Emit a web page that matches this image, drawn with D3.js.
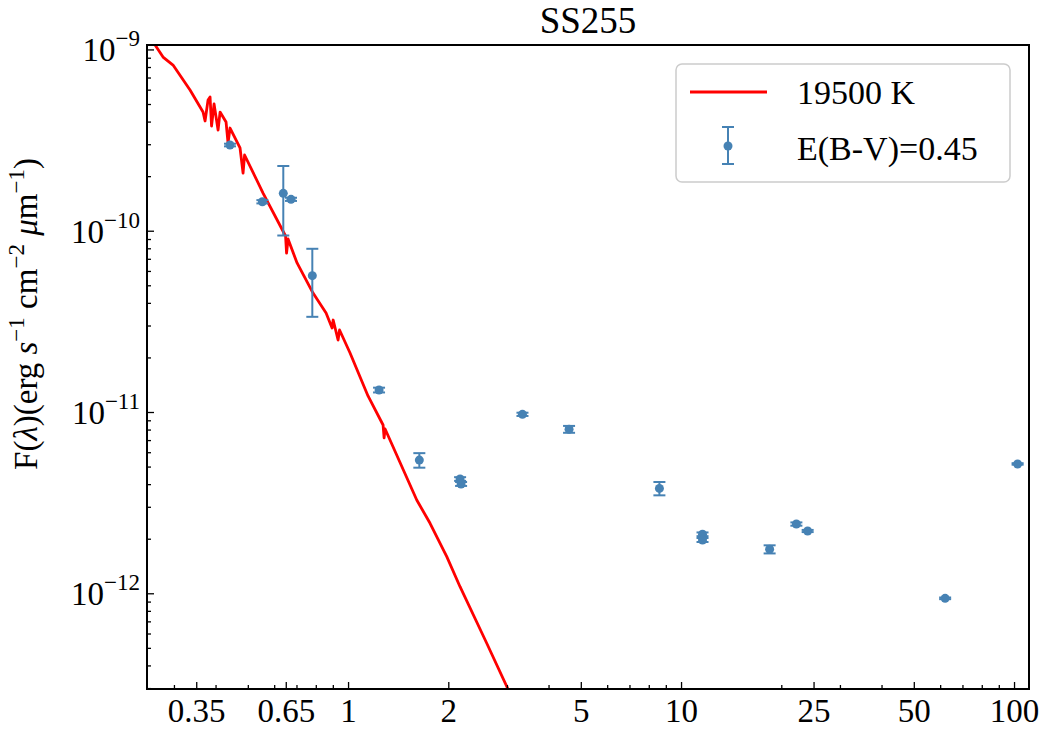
<!DOCTYPE html>
<html>
<head>
<meta charset="utf-8">
<script src="https://cdn.jsdelivr.net/npm/d3@7"></script>
<style>
  body { margin: 0; background: #fff; }
  svg text { font-family: "Liberation Serif", "Times New Roman", Times, "DejaVu Serif", "Noto Serif", serif; fill: #000; }
</style>
</head>
<body>
<svg id="chart" width="1050" height="750"></svg>
<script>
// photometry: wavelength (micron), flux and 1-sigma error (erg/s/cm2/micron)
const obsWave = [0.442, 0.553, 0.639, 0.674, 0.781, 1.239, 1.637, 2.17, 2.185, 3.34, 4.61, 8.61, 11.6, 11.6, 18.45, 22.2, 24.0, 62.1, 102.5];
const obsFlux = [2.97e-10, 1.445e-10, 1.608e-10, 1.49e-10, 5.65e-11, 1.322e-11, 5.43e-12, 4.27e-12, 4.01e-12, 9.71e-12, 8.03e-12, 3.79e-12, 2.116e-12, 1.968e-12, 1.749e-12, 2.41e-12, 2.206e-12, 9.38e-13, 5.17e-12];
const obsErr  = [0.05e-10, 0.03e-10, 0.667e-10, 0.03e-10, 0.23e-10, 0.04e-11, 0.5e-12, 0.1e-12, 0.1e-12, 0.2e-12, 0.35e-12, 0.32e-12, 0.05e-12, 0.05e-12, 0.09e-12, 0.05e-12, 0.03e-12, 0.1e-13, 0.05e-12];

// 19500 K model spectrum
const modelWave = [0.237, 0.2633, 0.2782, 0.2981, 0.3353, 0.3668, 0.372, 0.3798, 0.3851, 0.3891, 0.3959, 0.407, 0.4127, 0.4301, 0.4361, 0.4422, 0.4738, 0.4838, 0.4889, 0.5555, 0.6491, 0.6536, 0.6604, 0.7028, 0.785, 0.859, 0.8953, 0.9022, 0.9332, 0.9429, 1.0139, 1.148, 1.274, 1.283, 1.292, 1.608, 1.763, 1.979, 2.169, 2.609, 3.03, 3.173];
const modelFlux = [1.378e-9, 1.058e-9, 9.08e-10, 8.2e-10, 5.97e-10, 4.515e-10, 4.03e-10, 5.26e-10, 5.465e-10, 3.78e-10, 5.0e-10, 3.594e-10, 4.515e-10, 3.98e-10, 3.045e-10, 3.686e-10, 2.86e-10, 2.08e-10, 2.616e-10, 1.614e-10, 9.35e-11, 7.53e-11, 9.0e-11, 6.64e-11, 4.53e-11, 3.516e-11, 2.906e-11, 3.217e-11, 2.495e-11, 2.834e-11, 2.116e-11, 1.226e-11, 8.48e-12, 7.2e-12, 8.06e-12, 3.27e-12, 2.433e-12, 1.592e-12, 1.087e-12, 5.3e-13, 2.93e-13, 2.42e-13];

const xTicks = [0.35, 0.65, 1, 2, 5, 10, 25, 50, 100];
const xTickLabels = ["0.35", "0.65", "1", "2", "5", "10", "25", "50", "100"];
const yTicks = [1e-12, 1e-11, 1e-10, 1e-9];
const yTickExps = ["−12", "−11", "−10", "−9"];

const title = "SS255";
const modelLabel = "19500 K";
const obsLabel = "E(B-V)=0.45";

const blue = "#4682b4";
const pLeft = 147, pRight = 1029, pTop = 45, pBottom = 689;

const svg = d3.select("#chart");

const x = d3.scaleLog().domain([0.249, 110.9]).range([pLeft, pRight]);
const y = d3.scaleLog().domain([2.965e-13, 1.058e-9]).range([pBottom, pTop]);

svg.append("defs").append("clipPath").attr("id", "plotclip")
  .append("rect")
  .attr("x", pLeft).attr("y", pTop)
  .attr("width", pRight - pLeft).attr("height", pBottom - pTop);

// model line
svg.append("path")
  .datum(modelWave.map((w, i) => [w, modelFlux[i]]))
  .attr("clip-path", "url(#plotclip)")
  .attr("fill", "none")
  .attr("stroke", "#ff0000")
  .attr("stroke-width", 2.8)
  .attr("stroke-linejoin", "round")
  .attr("d", d3.line().x(d => x(d[0])).y(d => y(d[1])));

// photometry with error bars
const pts = svg.append("g").attr("clip-path", "url(#plotclip)")
  .selectAll("g")
  .data(obsWave.map((w, i) => ({ w: w, f: obsFlux[i], e: obsErr[i] })))
  .enter().append("g")
  .attr("stroke", blue)
  .attr("stroke-width", 2);

pts.append("line")
  .attr("x1", d => x(d.w)).attr("x2", d => x(d.w))
  .attr("y1", d => y(d.f - d.e)).attr("y2", d => y(d.f + d.e));
pts.append("line")
  .attr("x1", d => x(d.w) - 6).attr("x2", d => x(d.w) + 6)
  .attr("y1", d => y(d.f - d.e)).attr("y2", d => y(d.f - d.e));
pts.append("line")
  .attr("x1", d => x(d.w) - 6).attr("x2", d => x(d.w) + 6)
  .attr("y1", d => y(d.f + d.e)).attr("y2", d => y(d.f + d.e));
pts.append("circle")
  .attr("cx", d => x(d.w)).attr("cy", d => y(d.f))
  .attr("r", 4.5)
  .attr("fill", blue)
  .attr("stroke", "none");

// axes: inward ticks
const near = (a, b) => Math.abs(a - b) / b < 1e-6;
const xMinor = x.ticks().filter(t => !xTicks.some(m => near(t, m)));
const yMinor = y.ticks().filter(t => !yTicks.some(m => near(t, m)));

const xAxis = svg.append("g").attr("transform", `translate(0,${pBottom})`);
xAxis.call(d3.axisBottom(x).tickValues(xMinor).tickSize(-4).tickFormat(""));
xAxis.append("g").call(d3.axisBottom(x).tickValues(xTicks).tickSize(-7).tickPadding(10)
  .tickFormat((d, i) => xTickLabels[i]));
xAxis.selectAll(".domain").remove();
xAxis.selectAll("line").attr("stroke", "#000").attr("stroke-width", 1.3);
xAxis.selectAll("text").attr("font-size", 33);

const yAxis = svg.append("g").attr("transform", `translate(${pLeft},0)`);
yAxis.call(d3.axisLeft(y).tickValues(yMinor).tickSize(-4).tickFormat(""));
yAxis.append("g").call(d3.axisLeft(y).tickValues(yTicks).tickSize(-7).tickFormat(""));
yAxis.selectAll(".domain").remove();
yAxis.selectAll("line").attr("stroke", "#000").attr("stroke-width", 1.3);

const yLab = svg.append("g").selectAll("text")
  .data(yTicks)
  .enter().append("text")
  .attr("x", pLeft - 7)
  .attr("y", d => y(d) + 12)
  .attr("text-anchor", "end")
  .attr("font-size", 33);
yLab.append("tspan").text("10");
yLab.append("tspan").attr("dy", -15).attr("font-size", 23).text((d, i) => yTickExps[i]);

// frame
svg.append("rect")
  .attr("x", pLeft).attr("y", pTop)
  .attr("width", pRight - pLeft).attr("height", pBottom - pTop)
  .attr("fill", "none").attr("stroke", "#000").attr("stroke-width", 2);

// title
svg.append("text")
  .attr("x", (pLeft + pRight) / 2).attr("y", 33)
  .attr("text-anchor", "middle")
  .attr("font-size", 37)
  .text(title);

// y label
const yl = svg.append("text")
  .attr("transform", "translate(37,314) rotate(-90)")
  .attr("text-anchor", "middle")
  .attr("font-size", 33);
yl.append("tspan").text("F(");
yl.append("tspan").attr("font-style", "italic").text("λ");
yl.append("tspan").text(")(erg ");
yl.append("tspan").attr("font-style", "italic").text("s");
yl.append("tspan").attr("dy", -13).attr("font-size", 23).text("−1");
yl.append("tspan").attr("dy", 13).text(" cm");
yl.append("tspan").attr("dy", -13).attr("font-size", 23).text("−2");
yl.append("tspan").attr("dy", 13).text(" ");
yl.append("tspan").attr("font-style", "italic").text("μ");
yl.append("tspan").text("m");
yl.append("tspan").attr("dy", -13).attr("font-size", 23).text("−1");
yl.append("tspan").attr("dy", 13).text(")");

// legend
const lg = svg.append("g");
lg.append("rect")
  .attr("x", 676).attr("y", 64).attr("width", 334).attr("height", 118)
  .attr("rx", 6)
  .attr("fill", "#fff").attr("fill-opacity", 0.8)
  .attr("stroke", "#cccccc").attr("stroke-width", 1.5);
lg.append("line")
  .attr("x1", 690).attr("x2", 767).attr("y1", 92).attr("y2", 92)
  .attr("stroke", "#ff0000").attr("stroke-width", 2.8);
lg.append("text").attr("x", 797).attr("y", 104).attr("font-size", 34).text(modelLabel);
const li = lg.append("g").attr("stroke", blue).attr("stroke-width", 2);
li.append("line").attr("x1", 728).attr("x2", 728).attr("y1", 127).attr("y2", 164);
li.append("line").attr("x1", 722).attr("x2", 734).attr("y1", 127).attr("y2", 127);
li.append("line").attr("x1", 722).attr("x2", 734).attr("y1", 164).attr("y2", 164);
li.append("circle").attr("cx", 728).attr("cy", 146).attr("r", 4.5).attr("fill", blue).attr("stroke", "none");
lg.append("text").attr("x", 797).attr("y", 160).attr("font-size", 34).text(obsLabel);
</script>
</body>
</html>
